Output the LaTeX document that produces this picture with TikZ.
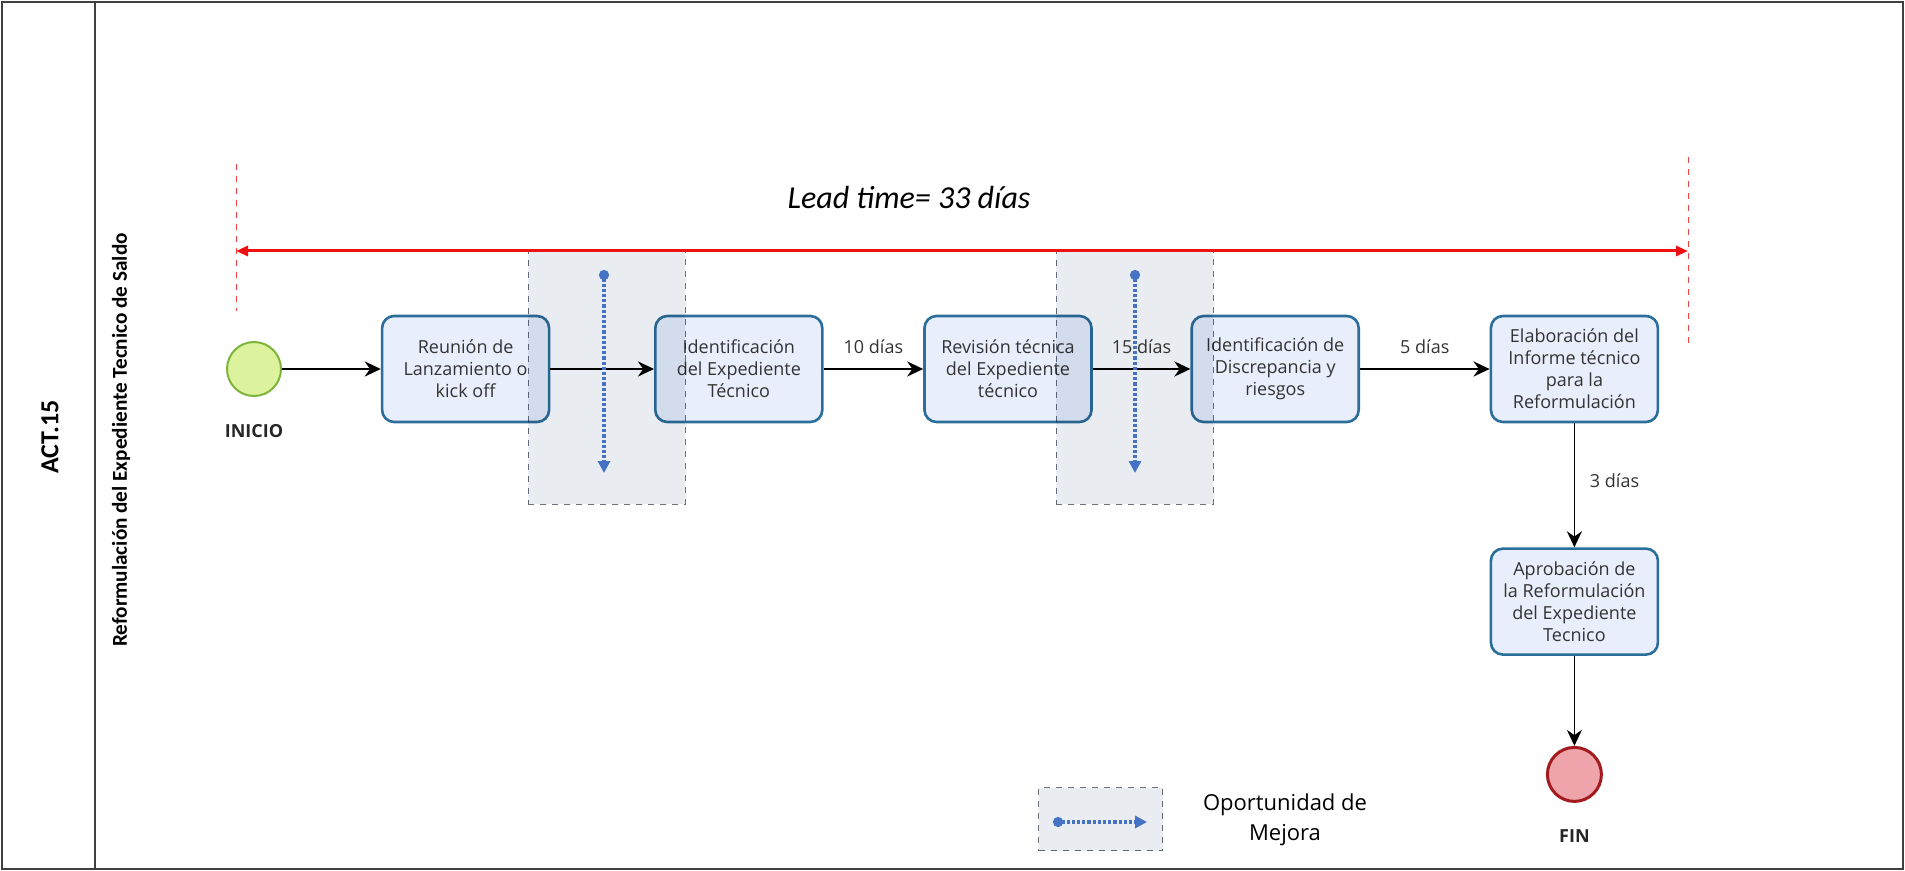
\documentclass[tikz,border=0pt]{standalone}
\usepackage{fontspec}
\setmainfont{Open Sans}
\newfontfamily\calibri{Carlito}
\usetikzlibrary{arrows.meta, positioning}

\definecolor{tareaFill}{HTML}{E8EEFB}
\definecolor{tareaDraw}{HTML}{2B6E99}
\definecolor{inicioFill}{HTML}{DDF29C}
\definecolor{inicioDraw}{HTML}{7DB43C}
\definecolor{finFill}{HTML}{EFA3AA}
\definecolor{finDraw}{HTML}{A31B1F}
\definecolor{mejoraFill}{HTML}{E9ECF1}
\definecolor{mejoraDraw}{HTML}{6B7280}
\definecolor{mejoraAzul}{HTML}{4472C4}
\definecolor{leadRojo}{HTML}{EE1111}

\begin{document}
\begin{tikzpicture}[
    x=0.5pt, y=-0.5pt,
    node distance=50pt and 50pt,
    tarea/.style={rectangle, draw=tareaDraw, line width=1.3pt, rounded corners=6pt, fill=tareaFill, minimum width=83.5pt, minimum height=53pt, align=center, text=black!80, font=\fontsize{9}{11}\selectfont},
    evento/.style={circle, minimum size=27pt, inner sep=0pt},
    etiqueta/.style={font=\bfseries\fontsize{9}{11}\selectfont, text=black!85},
    dias/.style={font=\fontsize{9}{11}\selectfont, text=black!80},
    flujo/.style={-{Stealth[length=8pt, width=7.5pt]}, line width=1.4pt},
    flujoV/.style={-{Stealth[length=8pt, width=7.5pt]}, line width=0.9pt},
    mejora/.style={rectangle, draw=mejoraDraw, dashed, line width=0.5pt, fill=mejoraFill, blend mode=multiply, minimum width=78.5pt, minimum height=126.5pt},
    mejoraFlecha/.style={{Circle[length=5pt]}-{Triangle[length=6pt, width=6pt]}, densely dotted, line width=1.6pt, draw=mejoraAzul},
    lead/.style={{Triangle[length=6pt, width=5pt]}-{Triangle[length=6pt, width=5pt]}, line width=1.5pt, draw=leadRojo},
    limite/.style={dashed, line width=0.5pt, draw=leadRojo!80},
    marco/.style={line width=1.2pt, draw=black!75}
  ]
  \useasboundingbox (0,0) rectangle (1905,871);

  % carril
  \draw[marco] (2,2) rectangle (1903,869);
  \draw[marco] (95,2) -- (95,869);
  \node[rotate=90, font=\calibri\bfseries\fontsize{13}{15}\selectfont] (act) at (50,437) {ACT.15};
  \node[rotate=90, font=\calibri\bfseries\fontsize{10.6}{13}\selectfont] (proceso) at (121,440) {Reformulación del Expediente Tecnico de Saldo};

  % eventos y tareas
  \node[evento, draw=inicioDraw, line width=1pt, fill=inicioFill] (inicio) at (254,369) {};
  \node[etiqueta, below=10pt of inicio] (inicioTxt) {INICIO};

  \node[tarea, right=49.4pt of inicio] (tarea1) {Reunión de\\Lanzamiento o\\kick off};
  \node[tarea, right=51.8pt of tarea1] (tarea2) {Identificación\\del Expediente\\Técnico};
  \node[tarea, right=49.8pt of tarea2] (tarea3) {Revisión técnica\\del Expediente\\técnico};
  \node[tarea, right=48.8pt of tarea3] (tarea4) {Identificación de\\Discrepancia y\\riesgos};
  \node[tarea, right=64.8pt of tarea4] (tarea5) {Elaboración del\\Informe técnico\\para la\\Reformulación};
  \node[tarea, below=62pt of tarea5] (tarea6) {Aprobación de\\la Reformulación\\del Expediente\\Tecnico};

  \node[evento, draw=finDraw, line width=1.5pt, fill=finFill, below=45pt of tarea6] (fin) {};
  \node[etiqueta, below=10pt of fin] (finTxt) {FIN};

  % oportunidades de mejora
  \node[mejora] (mejora1) at (606.5,377.5) {};
  \node[mejora] (mejora2) at (1134.5,377.5) {};

  \draw[flujo] (inicio) -- (tarea1);
  \draw[flujo] (tarea1) -- (tarea2);
  \draw[flujo] (tarea2) -- node[dias, above, yshift=3.5pt] (d10) {10 días} (tarea3);
  \draw[flujo] (tarea3) -- node[dias, above, yshift=3.5pt] (d15) {15 días} (tarea4);
  \draw[flujo] (tarea4) -- node[dias, above, yshift=3.5pt] (d5) {5 días} (tarea5);
  \draw[flujoV] (tarea5) -- node[dias, right, xshift=4pt, yshift=2.5pt] (d3) {3 días} (tarea6);
  \draw[flujoV] (tarea6) -- (fin);

  \coordinate (m1a) at (604,270);
  \coordinate (m1b) at (604,473);
  \coordinate (m2a) at (1135,270);
  \coordinate (m2b) at (1135,473);
  \draw[mejoraFlecha] (m1a) -- (m1b);
  \draw[mejoraFlecha] (m2a) -- (m2b);

  % lead time
  \coordinate (limIzqA) at (236,164);
  \coordinate (limIzqB) at (236,311);
  \coordinate (limDerA) at (1688,157);
  \coordinate (limDerB) at (1688,346);
  \coordinate (leadIzq) at (236,251);
  \coordinate (leadDer) at (1688,251);
  \draw[limite] (limIzqA) -- (limIzqB);
  \draw[limite] (limDerA) -- (limDerB);
  \draw[lead] (leadIzq) -- (leadDer);
  \node[font=\calibri\itshape\fontsize{16}{19}\selectfont] (leadTxt) at (909,198) {Lead time= 33 días};

  % leyenda
  \node[mejora, minimum width=62pt, minimum height=31.5pt] (leyenda) at (1100.5,819) {};
  \coordinate (leyA) at (1053,822);
  \coordinate (leyB) at (1147,822);
  \draw[mejoraFlecha] (leyA) -- (leyB);
  \node[align=center, font=\fontsize{11}{15}\selectfont] (leyendaTxt) at (1285,820) {Oportunidad de\\Mejora};
\end{tikzpicture}
\end{document}
